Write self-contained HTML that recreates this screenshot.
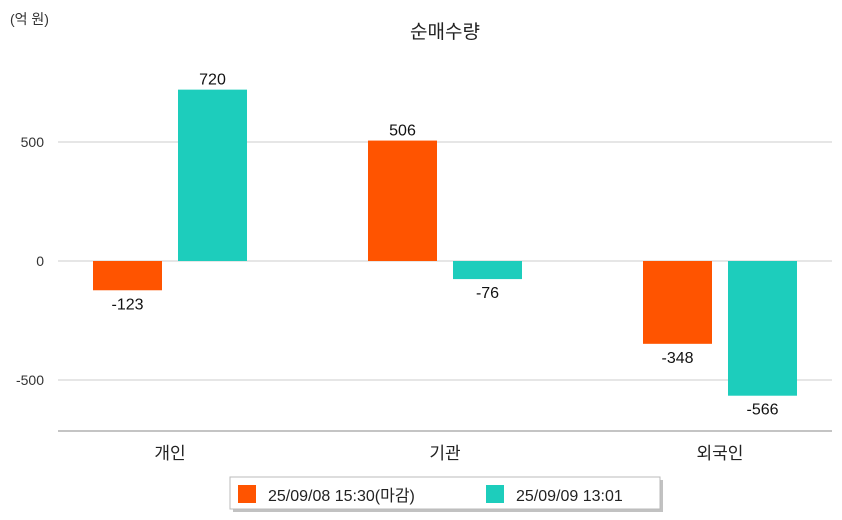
<!DOCTYPE html>
<html><head><meta charset="utf-8"><style>
body{margin:0;background:#fff;}
svg{display:block;font-family:"Liberation Sans","Noto Sans CJK KR",sans-serif;}
</style></head><body>
<svg id="c" width="842" height="520">
<text x="10" y="24" font-size="14" fill="#333">(억 원)</text>
<text x="445" y="38" font-size="19" fill="#222" text-anchor="middle">순매수량</text>
<g id="grid"></g><g id="bars"></g>
<line x1="58" y1="431" x2="832" y2="431" stroke="#888" stroke-width="1"/>
<g>
<rect x="233" y="480" width="430" height="32" fill="#999" opacity="0.6"/>
<rect x="230" y="477" width="430" height="32" fill="#fff" stroke="#bbb"/>
<rect x="238" y="485" width="18" height="18" fill="#ff5400"/>
<text x="268" y="501" font-size="16" fill="#222">25/09/08 15:30(마감)</text>
<rect x="486" y="485" width="18" height="18" fill="#1dcdbc"/>
<text x="516" y="501" font-size="16" fill="#222">25/09/09 13:01</text>
</g>
</svg>
<script>
const categories=["개인","기관","외국인"];
const series1=[-123,506,-348];
const series2=[720,-76,-566];
const ticks=[500,0,-500];
const colors=["#ff5400","#1dcdbc"];
const ns="http://www.w3.org/2000/svg";
const y=v=>261-v*0.238;
const xc=i=>170+i*275;
function mk(t,a,p){const e=document.createElementNS(ns,t);for(const k in a)e.setAttribute(k,a[k]);p.appendChild(e);return e;}
const g=document.getElementById('grid'),b=document.getElementById('bars');
ticks.forEach(t=>{
 const l=mk('line',{x1:58,x2:832,y1:y(t),y2:y(t),stroke:'#ccc'},g);
 
 
 const tx=mk('text',{x:44,y:y(t)+5,'font-size':14,fill:'#333','text-anchor':'end'},g);
 tx.textContent=t;
 
 
});
categories.forEach((c,i)=>{
 const lt=mk('text',{x:xc(i),y:459,'font-size':17,fill:'#222','text-anchor':'middle'},b);
 lt.textContent=c;
 
 
 [series1[i],series2[i]].forEach((v,s)=>{
  const x0=s===0?xc(i)-77:xc(i)+8;
  const top=Math.min(y(v),y(0)),h=Math.abs(y(v)-y(0));
  const r=mk('rect',{x:x0,y:top,width:69,height:h,fill:colors[s]},b);
  
  
  const ly=v>=0?y(v)-5:y(v)+19;
  const vt=mk('text',{x:x0+34.5,y:ly,'font-size':16,fill:'#111','text-anchor':'middle'},b);
  vt.textContent=v;
  
  
 });
});
</script>
</body></html>
